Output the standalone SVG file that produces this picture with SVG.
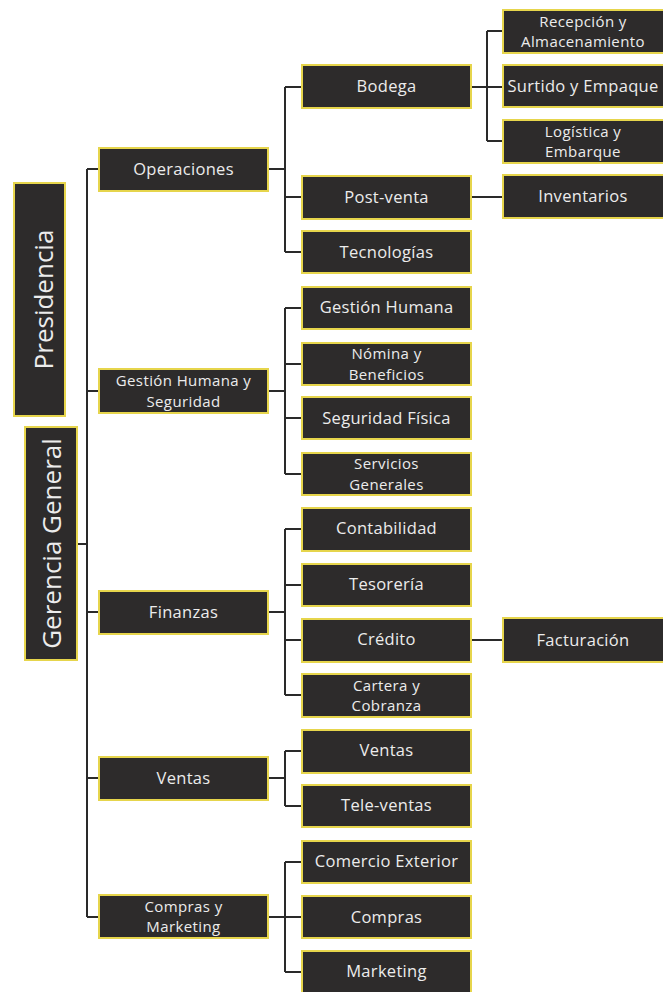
<svg xmlns="http://www.w3.org/2000/svg" width="663" height="992" viewBox="0 0 663 992">
<style>
.b{fill:#2d2b2b;stroke:#e6d54c;stroke-width:2}
.t{fill:#ececec;font-family:"Open Sans","Noto Sans",sans-serif;font-size:16.5px;letter-spacing:0.3px;text-anchor:middle}
.t2{fill:#ececec;font-family:"Open Sans","Noto Sans",sans-serif;font-size:15px;letter-spacing:0.4px;text-anchor:middle}
.v{fill:#ececec;font-family:"Open Sans","Noto Sans",sans-serif;font-size:26px;text-anchor:middle}
.c{fill:none;stroke:#2a2a2a;stroke-width:2}
</style>
<rect width="663" height="992" fill="#ffffff"/>
<g id="connectors">
<path class="c" d="M77,544H87M87,169V917M87,169H99M87,391H99M87,612H99M87,778H99M87,917H99"/>
<path class="c" d="M268,169H285M285,87V252M285,87H302M285,197H302M285,252H302"/>
<path class="c" d="M268,391H285M285,308V474M285,308H302M285,364H302M285,418H302M285,474H302"/>
<path class="c" d="M268,612H285M285,529V695M285,529H302M285,585H302M285,640H302M285,695H302"/>
<path class="c" d="M268,778H285M285,751V806M285,751H302M285,806H302"/>
<path class="c" d="M268,917H285M285,862V972M285,862H302M285,917H302M285,972H302"/>
<path class="c" d="M471,87H503M487,31V141M487,31H503M487,141H503"/>
<path class="c" d="M471,197H503M471,640H503"/>
</g>
<g id="presidencia"><rect class="b" x="14" y="183" width="51" height="233"/><text class="v" transform="translate(53,299.5) rotate(-90)">Presidencia</text></g>
<g id="gerencia"><rect class="b" x="25" y="427" width="52" height="233"/><text class="v" transform="translate(61,543.5) rotate(-90)">Gerencia General</text></g>
<g id="operaciones"><rect class="b" x="99" y="148" width="169" height="43"/><text class="t" x="183.5" y="175">Operaciones</text></g>
<g id="gestion-humana-seguridad"><rect class="b" x="99" y="369" width="169" height="44"/><text class="t2" x="183.5" y="386">Gestión Humana y</text><text class="t2" x="183.5" y="406.5">Seguridad</text></g>
<g id="finanzas"><rect class="b" x="99" y="591" width="169" height="43"/><text class="t" x="183.5" y="618">Finanzas</text></g>
<g id="ventas1"><rect class="b" x="99" y="757" width="169" height="43"/><text class="t" x="183.5" y="784">Ventas</text></g>
<g id="compras-marketing"><rect class="b" x="99" y="895" width="169" height="43"/><text class="t2" x="183.5" y="911.5">Compras y</text><text class="t2" x="183.5" y="932">Marketing</text></g>
<g id="bodega"><rect class="b" x="302" y="65" width="169" height="43"/><text class="t" x="386.5" y="92">Bodega</text></g>
<g id="post-venta"><rect class="b" x="302" y="176" width="169" height="43"/><text class="t" x="386.5" y="203">Post-venta</text></g>
<g id="tecnologias"><rect class="b" x="302" y="231" width="169" height="42"/><text class="t" x="386.5" y="258">Tecnologías</text></g>
<g id="gestion-humana"><rect class="b" x="302" y="287" width="169" height="42"/><text class="t" x="386.5" y="313">Gestión Humana</text></g>
<g id="nomina"><rect class="b" x="302" y="343" width="169" height="42"/><text class="t2" x="386.5" y="359">Nómina y</text><text class="t2" x="386.5" y="379.5">Beneficios</text></g>
<g id="seguridad-fisica"><rect class="b" x="302" y="397" width="169" height="42"/><text class="t" x="386.5" y="424">Seguridad Física</text></g>
<g id="servicios-generales"><rect class="b" x="302" y="453" width="169" height="42"/><text class="t2" x="386.5" y="469">Servicios</text><text class="t2" x="386.5" y="489.5">Generales</text></g>
<g id="contabilidad"><rect class="b" x="302" y="508" width="169" height="43"/><text class="t" x="386.5" y="534">Contabilidad</text></g>
<g id="tesoreria"><rect class="b" x="302" y="564" width="169" height="42"/><text class="t" x="386.5" y="590">Tesorería</text></g>
<g id="credito"><rect class="b" x="302" y="619" width="169" height="43"/><text class="t" x="386.5" y="645">Crédito</text></g>
<g id="cartera"><rect class="b" x="302" y="674" width="169" height="43"/><text class="t2" x="386.5" y="690.5">Cartera y</text><text class="t2" x="386.5" y="711">Cobranza</text></g>
<g id="ventas2"><rect class="b" x="302" y="730" width="169" height="43"/><text class="t" x="386.5" y="756">Ventas</text></g>
<g id="tele-ventas"><rect class="b" x="302" y="785" width="169" height="42"/><text class="t" x="386.5" y="811">Tele-ventas</text></g>
<g id="comercio-exterior"><rect class="b" x="302" y="841" width="169" height="42"/><text class="t" x="386.5" y="867">Comercio Exterior</text></g>
<g id="compras"><rect class="b" x="302" y="896" width="169" height="42"/><text class="t" x="386.5" y="923">Compras</text></g>
<g id="marketing"><rect class="b" x="302" y="951" width="169" height="42"/><text class="t" x="386.5" y="977">Marketing</text></g>
<g id="recepcion"><rect class="b" x="503" y="10" width="165" height="43"/><text class="t2" x="583" y="26.5">Recepción y</text><text class="t2" x="583" y="47">Almacenamiento</text></g>
<g id="surtido"><rect class="b" x="503" y="65" width="165" height="42"/><text class="t" x="583" y="92">Surtido y Empaque</text></g>
<g id="logistica"><rect class="b" x="503" y="120" width="165" height="43"/><text class="t2" x="583" y="136.5">Logística y</text><text class="t2" x="583" y="157">Embarque</text></g>
<g id="inventarios"><rect class="b" x="503" y="175" width="165" height="43"/><text class="t" x="583" y="202">Inventarios</text></g>
<g id="facturacion"><rect class="b" x="503" y="618" width="165" height="44"/><text class="t" x="583" y="646">Facturación</text></g>
</svg>
